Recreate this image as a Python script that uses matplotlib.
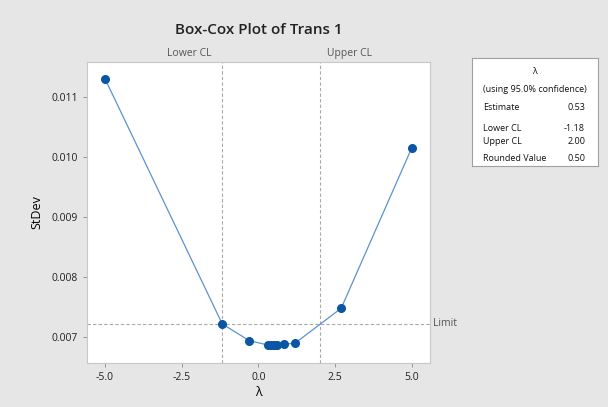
import matplotlib.pyplot as plt

plt.rcParams['font.family'] = ['Open Sans', 'DejaVu Sans']

lambdas = [-5.0, -1.18, -0.3, 0.3, 0.4, 0.5, 0.53, 0.6, 0.85, 1.2, 2.7, 5.0]
stdev = [0.0113, 0.00722, 0.00694, 0.006868, 0.006865, 0.006864, 0.006864, 0.006866, 0.00688, 0.00690, 0.00748, 0.01015]
lower_cl = -1.18
upper_cl = 2.00
limit = 0.00722
x_ticks = [-5.0, -2.5, 0.0, 2.5, 5.0]
y_ticks = [0.007, 0.008, 0.009, 0.010, 0.011]

bg = '#e6e6e6'
fig = plt.figure(figsize=(6.08, 4.07), dpi=100, facecolor=bg)
ax = fig.add_axes([0.143, 0.108, 0.564, 0.740])

ax.plot(lambdas, stdev, color='#5a93d0', lw=0.9, zorder=2)
ax.plot(lambdas, stdev, 'o', color='#0b56a4', ms=5.5, zorder=3)

dash = dict(color='#a8a8a8', lw=0.8, ls=(0, (3, 2)), zorder=1)
ax.axvline(lower_cl, **dash)
ax.axvline(upper_cl, **dash)
ax.axhline(limit, **dash)

ax.set_xlim(-5.59, 5.59)
ax.set_ylim(0.006567, 0.011583)
ax.set_xticks(x_ticks)
ax.set_xticklabels([f'{t:.1f}' for t in x_ticks])
ax.set_yticks(y_ticks)
ax.set_yticklabels([f'{t:.3f}' for t in y_ticks])
ax.tick_params(labelsize=7.5, colors='#222222', length=3, width=0.6, color='#888888')
for s in ax.spines.values():
    s.set_color('#c8c8c8')
    s.set_linewidth(0.8)

ax.set_xlabel('λ', fontsize=9, labelpad=2)
ax.set_ylabel('StDev', fontsize=9, labelpad=6)

ax.annotate('Lower CL', (lower_cl, 1.0), xycoords=ax.get_xaxis_transform(),
            xytext=(-8, 2), textcoords='offset points', ha='right', va='bottom',
            fontsize=7.5, color='#555555')
ax.annotate('Upper CL', (upper_cl, 1.0), xycoords=ax.get_xaxis_transform(),
            xytext=(5, 2), textcoords='offset points', ha='left', va='bottom',
            fontsize=7.5, color='#555555')
ax.annotate('Limit', (1.0, limit), xycoords=ax.get_yaxis_transform(),
            xytext=(2, 0), textcoords='offset points', ha='left', va='center',
            fontsize=7.5, color='#555555')

fig.text(0.426, 0.926, 'Box-Cox Plot of Trans 1', ha='center', va='center', fontsize=11,
         fontweight='semibold', color='#222222')

# legend table box
box = fig.add_axes([0.776, 0.592, 0.207, 0.265])
box.set_xticks([])
box.set_yticks([])
for s in box.spines.values():
    s.set_color('#a0a0a0')
    s.set_linewidth(0.8)
fs = 6.5
box.text(0.5, 0.88, 'λ', ha='center', va='center', fontsize=fs, color='#111111')
box.text(0.5, 0.71, '(using 95.0% confidence)', ha='center', va='center', fontsize=fs,
         color='#111111')
rows = [('Estimate', '0.53', 0.52), ('Lower CL', '-1.18', 0.33), ('Upper CL', '2.00', 0.21),
        ('Rounded Value', '0.50', 0.05)]
for name, val, yy in rows:
    box.text(0.09, yy + 0.02, name, ha='left', va='center', fontsize=fs, color='#111111')
    box.text(0.9, yy + 0.02, val, ha='right', va='center', fontsize=fs, color='#111111')

plt.savefig('out.png', dpi=100, facecolor=bg)
